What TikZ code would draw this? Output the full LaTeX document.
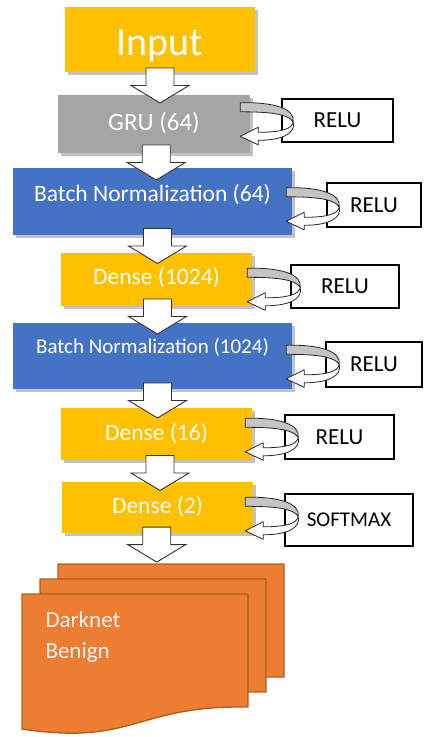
\documentclass[tikz,border=0pt]{standalone}
\usepackage{fontspec}
\setmainfont{Carlito}
\usetikzlibrary{calc,shadows}
\definecolor{jaune}{HTML}{FFC000}
\definecolor{bleu}{HTML}{4472C4}
\definecolor{gris}{HTML}{A5A5A5}
\definecolor{grisclair}{HTML}{C4C4C4}
\definecolor{orangedoc}{HTML}{ED7D31}
\definecolor{bordure}{HTML}{B0601F}
\definecolor{blanc}{HTML}{F4F4F4}

\begin{document}
\begin{tikzpicture}[x=1pt, y=-1pt]
	\tikzset{boite/.style={rectangle, inner sep=0pt, drop shadow={shadow xshift=2.5pt, shadow yshift=-2.5pt, opacity=.4, fill=black!60}},
	activation/.style={rectangle, draw=black, line width=1.2pt, fill=white, inner sep=0pt},
	fleche/.style={draw=black!80, fill=white, line width=0.9pt, line join=miter},
	ruban/.style={draw=black!85, line width=0.8pt, line join=round},
	doc/.style={draw=bordure, fill=orangedoc, line width=1.4pt},
	descente/.pic={\path[fleche] (-11,-15.5) -- (17,-15.5) -- (17,2) -- (32,2) -- (3,19.5) -- (-26,2) -- (-11,2) -- cycle;},
	boucle/.pic={
		\path[ruban, fill=grisclair] (0,-4.5) .. controls (35,-5.5) and (55,2) .. (53,14.5) .. controls (48,7) and (32,4.5) .. (0,4.5) -- cycle;
		\path[ruban, fill=white] (53,14.5) .. controls (52,22) and (40,25) .. (18,25) -- (18,20) -- (0,29) -- (18,37.5) -- (18,33) .. controls (42,33) and (56,26) .. (53,14.5) -- cycle;},
	feuille/.pic={\path[doc] (0,0) -- (226,0) -- (226,113) .. controls (113,111) and (113,152) .. (0,135) -- cycle;}};

	\useasboundingbox (0,0) rectangle (427,737);

	% couches du reseau
	\foreach \name/\x/\y/\w/\h/\coul/\base/\taille/\txt in {entree/160/39.5/190/65/jaune/55/40/Input, gru/154/124/192/58/gris/130/25/{GRU (64)}, bn1/152.5/201.5/279/67/bleu/201/23.5/{Batch Normalization (64)}, dense1/156.5/279.5/191/53/jaune/284/23.5/{Dense (1024)}, bn2/152.5/356/279/66/bleu/353/21/{Batch Normalization (1024)}, dense2/156.5/434/191/52/jaune/440/23.5/{Dense (16)}, dense3/157.5/507.5/191/51/jaune/513/23.5/{Dense (2)}}{
		\node[boite, fill=\coul, minimum width=\w, minimum height=\h] (\name) at (\x, \y) {};
		\node[anchor=base, text=white, font=\fontsize{\taille}{\taille}\selectfont] (t-\name) at (\x, \base) {\txt};
	}

	% fonctions d'activation
	\foreach \name/\x/\y/\w/\h/\taille/\txt in {r-gru/337.5/120.5/111/43/23/RELU, r-bn1/374/205/94/44/23/RELU, r-dense1/345/286.5/108/43/23/RELU, r-bn2/374/364.5/96/45/23/RELU, r-dense2/339.5/437/109/44/23/RELU, r-dense3/349/520/128/52/21/SOFTMAX}{
		\node[activation, minimum width=\w, minimum height=\h, font=\fontsize{\taille}{\taille}\selectfont] (\name) at (\x, \y) {\txt};
	}

	\foreach \name/\dx/\dy in {gru/-10/12.5, bn1/-6/24.5, dense1/-5/20, bn2/-6/27, dense2/-7/15, dense3/-8/20}
		\pic at ($(\name.north east)+(\dx,\dy)$) {boucle};

	\foreach \a/\b in {entree/gru, gru/bn1, bn1/dense1, dense1/bn2, bn2/dense2, dense2/dense3}
		\pic at ($(\a.south)!0.5!(\b.north)$) {descente};

	% sorties
	\foreach \x/\y in {58/564, 40/579, 22/594}
		\pic at (\x, \y) {feuille};
	\node[anchor=base west, text=blanc, font=\fontsize{23}{23}\selectfont] (darknet) at (42, 627) {Darknet};
	\node[anchor=base west, text=blanc, font=\fontsize{23}{23}\selectfont] (benign) at (42, 658) {Benign};

	\coordinate (sortie) at (150, 552);
	\pic at ($(dense3.south)!0.5!(sortie)$) {descente};

\end{tikzpicture}
\end{document}
